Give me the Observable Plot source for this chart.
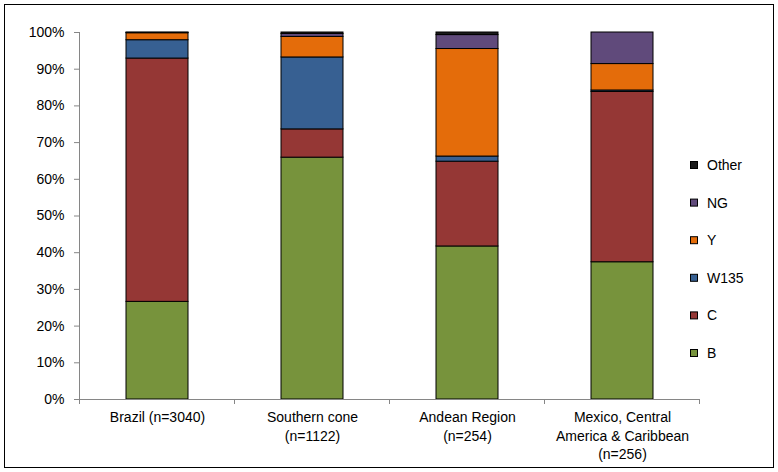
<!DOCTYPE html>
<html>
<head>
<meta charset="utf-8">
<script src="https://cdn.jsdelivr.net/npm/d3@7"></script>
<script src="https://cdn.jsdelivr.net/npm/@observablehq/plot@0.6"></script>
<style>
  html, body { margin: 0; padding: 0; background: #fff; }
  #chart { position: relative; width: 778px; height: 472px; }
  svg { font-family: "Liberation Sans", Arial, sans-serif; }
</style>
</head>
<body>
<div id="chart"></div>
<script>
// ---- Data (percent of isolates by serogroup) ----
const categories = ["Brazil", "Southern cone", "Andean Region", "Mexico, Central America & Caribbean"];
const tickLabels = ["Brazil (n=3040)", "Southern cone\n(n=1122)", "Andean Region\n(n=254)", "Mexico, Central\nAmerica & Caribbean\n(n=256)"];
const series = ["B", "C", "W135", "Y", "NG", "Other"];
const colors = ["#77933C", "#953735", "#376092", "#E46C0A", "#604A7B", "#1A1A1A"];
const B     = [26.6, 65.9, 41.7, 37.4];
const C     = [66.3,  7.7, 23.1, 46.4];
const W135  = [ 5.0, 19.6,  1.4,  0.4];
const Y     = [ 1.9,  5.6, 29.3,  7.2];
const NG    = [ 0.1,  0.8,  3.8,  8.6];
const Other = [ 0.1,  0.4,  0.7,  0.0];
const yTicks = [0, 0.1, 0.2, 0.3, 0.4, 0.5, 0.6, 0.7, 0.8, 0.9, 1.0];

const valuesBySeries = {B, C, W135, Y, NG, Other};
const rows = [];
categories.forEach((cat, i) => {
  series.forEach(s => rows.push({cat, serie: s, value: valuesBySeries[s][i] / 100}));
});

const axisColor = "#868686";
const fontFamily = "Liberation Sans, Arial, sans-serif";

const chart = Plot.plot({
  width: 778,
  height: 472,
  marginLeft: 79,
  marginRight: 79,
  marginTop: 32,
  marginBottom: 73,
  style: {fontFamily, fontSize: "14px", color: "#000", background: "#fff"},
  x: {domain: categories, paddingInner: 0.6, paddingOuter: 0.3, label: null},
  y: {domain: [0, 1], label: null},
  color: {domain: series, range: colors},
  marks: [
    Plot.barY(rows, Plot.stackY({x: "cat", y: "value", fill: "serie", stroke: "#000", strokeWidth: 1})),
    Plot.ruleY([0], {stroke: axisColor}),
    Plot.axisY({ticks: yTicks, tickFormat: d3.format(".0%"), tickSize: 5, tickPadding: 10, stroke: axisColor, fontSize: 14, label: null, color: "#000"}),
    Plot.axisX({tickSize: 0, tickPadding: 10, fontSize: 14, lineHeight: 1.3, label: null,
      tickFormat: d => tickLabels[categories.indexOf(d)]})
  ]
});

// Decorations drawn from the scales: left axis line, category separators, border, legend
const svg = d3.select(chart);
const sx = chart.scale("x");
const sy = chart.scale("y");
const [x0, x1] = sx.range;
const yBottom = sy.apply(0), yTop = sy.apply(1);
svg.append("line").attr("x1", x0 + 0.5).attr("x2", x0 + 0.5).attr("y1", yTop).attr("y2", yBottom).attr("stroke", axisColor);
const gap = sx.step - sx.bandwidth;
const seps = categories.map(c => sx.apply(c) - gap / 2);
seps.push(sx.apply(categories[categories.length - 1]) + sx.bandwidth + gap / 2);
seps.forEach(x => svg.append("line").attr("x1", x).attr("x2", x).attr("y1", yBottom).attr("y2", yBottom + 5).attr("stroke", axisColor));
svg.append("rect").attr("x", 4.5).attr("y", 4.5).attr("width", 769).attr("height", 463)
  .attr("fill", "none").attr("stroke", "#000").attr("stroke-width", 1);

const legend = svg.append("g").attr("font-size", 14).attr("font-family", fontFamily).attr("text-anchor", "start");
const legendItems = series.slice().reverse();
legendItems.forEach((s, i) => {
  const y = 165 + i * 37.6;
  const g = legend.append("g").attr("transform", `translate(690,${y})`);
  g.append("rect").attr("x", 0.5).attr("y", -3.5).attr("width", 7).attr("height", 7)
    .attr("fill", colors[series.indexOf(s)]).attr("stroke", "#000").attr("stroke-width", 1);
  g.append("text").attr("x", 17).attr("y", 0).attr("dy", "0.35em").attr("text-anchor", "start").text(s);
});

document.getElementById("chart").appendChild(chart);
</script>
</body>
</html>
